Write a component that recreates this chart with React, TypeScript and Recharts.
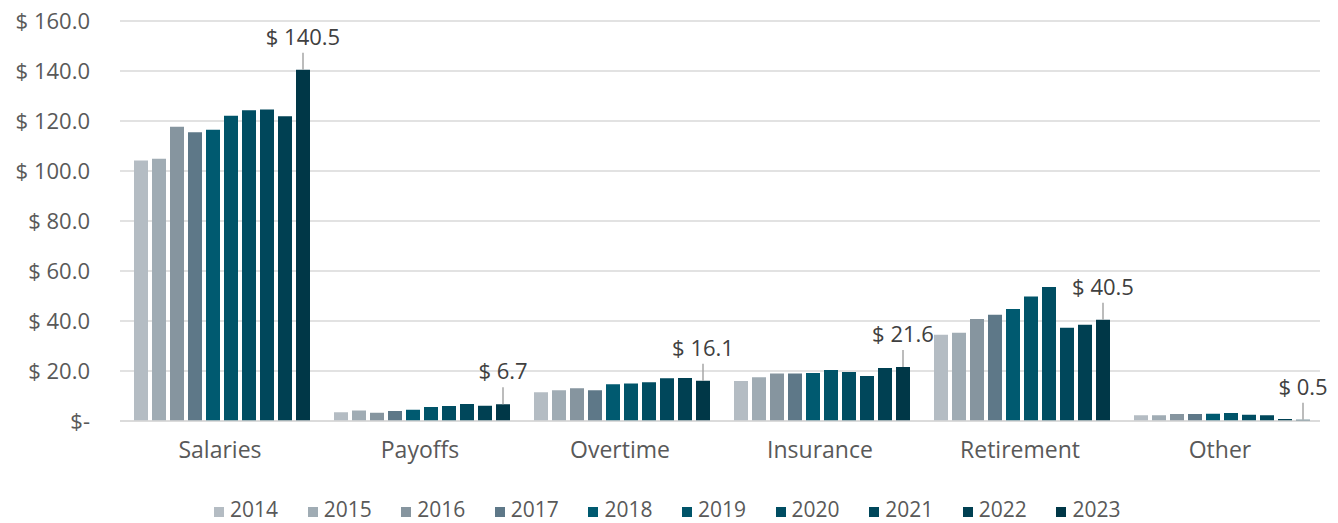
import React from 'react';
import { BarChart, Bar, XAxis, YAxis, CartesianGrid, Legend, LabelList } from 'recharts';

const categories = ['Salaries', 'Payoffs', 'Overtime', 'Insurance', 'Retirement', 'Other'];
const years = ['2014', '2015', '2016', '2017', '2018', '2019', '2020', '2021', '2022', '2023'];

const y2014 = [104.2, 3.5, 11.5, 16.0, 34.5, 2.3];
const y2015 = [104.9, 4.2, 12.3, 17.5, 35.3, 2.3];
const y2016 = [117.7, 3.3, 13.1, 19.0, 40.8, 2.8];
const y2017 = [115.5, 4.0, 12.3, 19.0, 42.5, 2.8];
const y2018 = [116.5, 4.5, 14.7, 19.2, 44.8, 2.9];
const y2019 = [122.1, 5.6, 15.0, 20.4, 49.8, 3.2];
const y2020 = [124.3, 6.0, 15.5, 19.6, 53.6, 2.5];
const y2021 = [124.6, 6.8, 17.1, 18.0, 37.3, 2.3];
const y2022 = [121.9, 6.1, 17.2, 21.2, 38.5, 0.8];
const y2023 = [140.5, 6.7, 16.1, 21.6, 40.5, 0.5];

const yTicks = [0, 20, 40, 60, 80, 100, 120, 140, 160];

const seriesValues = [y2014, y2015, y2016, y2017, y2018, y2019, y2020, y2021, y2022, y2023];
const colors = [
  '#B4BCC3', '#A0ACB4', '#86959F', '#5E7888', '#005A70',
  '#005469', '#004D62', '#00475B', '#004052', '#003747',
];

const data = categories.map((name, i) => {
  const row: Record<string, string | number> = { name };
  years.forEach((yr, j) => {
    row[yr] = seriesValues[j][i];
  });
  return row;
});

const FONT = '"Open Sans", "Noto Sans", sans-serif';

const fmtTick = (v: number) => (v === 0 ? '$-' : `$ ${v.toFixed(1)}`);

const CalloutLabel = (props: any) => {
  const { x, y, width, value } = props;
  const cx = x + width / 2;
  return (
    <g>
      <line x1={cx} y1={y} x2={cx} y2={y - 17} stroke="#A6A6A6" strokeWidth={1.5} />
      <text
        x={cx}
        y={y - 34}
        textAnchor="middle"
        dominantBaseline="central"
        fontSize={22}
        fontFamily={FONT}
        fill="#404040"
      >
        {`$ ${Number(value).toFixed(1)}`}
      </text>
    </g>
  );
};

// legend items are fixed width, so pad left to keep the visible part centred
const LegendContent = () => (
  <div style={{ display: 'flex', justifyContent: 'center', paddingLeft: 44, fontFamily: FONT }}>
    {years.map((yr, i) => (
      <div key={yr} style={{ display: 'flex', alignItems: 'center', width: 93.6 }}>
        <span style={{ width: 10, height: 10, background: colors[i], marginRight: 6, marginTop: 5 }} />
        <span style={{ fontSize: 21, color: '#595959' }}>{yr}</span>
      </div>
    ))}
  </div>
);

export default function App() {
  return (
    <div style={{ position: 'absolute', left: 0, top: 0, width: 1338, height: 523, background: '#fff' }}>
      <BarChart
        width={1338}
        height={523}
        data={data}
        margin={{ top: 21, right: 18, left: 0, bottom: 0 }}
        barCategoryGap={14}
        barGap={4}
      >
        <CartesianGrid vertical={false} stroke="#D9D9D9" strokeWidth={1.5} />
        <XAxis
          dataKey="name"
          axisLine={{ stroke: '#D9D9D9', strokeWidth: 1.5 }}
          tickLine={false}
          height={74}
          tick={{ fill: '#595959', fontSize: 23, fontFamily: FONT }}
          tickMargin={15}
        />
        <YAxis
          width={120}
          domain={[0, 160]}
          ticks={yTicks}
          tickFormatter={fmtTick}
          axisLine={false}
          tickLine={false}
          tickMargin={24}
          tick={{ fill: '#595959', fontSize: 22, fontFamily: FONT }}
        />
        <Legend verticalAlign="bottom" content={<LegendContent />} />
        {years.map((yr, i) => (
          <Bar key={yr} dataKey={yr} fill={colors[i]} isAnimationActive={false}>
            {yr === '2023' && <LabelList dataKey={yr} content={<CalloutLabel />} />}
          </Bar>
        ))}
      </BarChart>
    </div>
  );
}
